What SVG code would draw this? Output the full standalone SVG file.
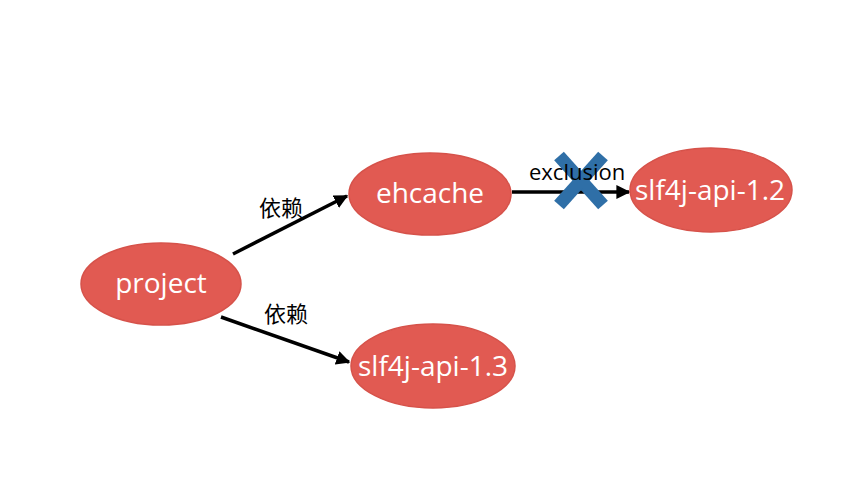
<svg xmlns="http://www.w3.org/2000/svg" width="850" height="480" viewBox="0 0 850 480">
<style>
.node{fill:#e15a52;stroke:#d6524a;stroke-width:1.5}
.nt{fill:#ffffff;font-family:"Open Sans","Liberation Sans",sans-serif;font-size:28px;text-anchor:middle}
.lbl{fill:#000;font-family:"Open Sans","Liberation Sans","Noto Sans CJK SC",sans-serif;font-size:22px}
.edge{stroke:#000;stroke-width:3.5;fill:none;marker-end:url(#ah)}
</style>
<defs>
<marker id="ah" viewBox="0 0 10 10" refX="9" refY="5" markerWidth="4" markerHeight="4" orient="auto" markerUnits="strokeWidth">
<path d="M0,0 L10,5 L0,10 z" fill="#000"/>
</marker>
</defs>
<rect width="850" height="480" fill="#ffffff"/>
<g id="connectors">
<line class="edge" x1="233" y1="254" x2="347" y2="196"/>
<line class="edge" x1="221" y1="317" x2="349" y2="362"/>
<line class="edge" x1="512" y1="192" x2="629" y2="192"/>
<text class="lbl" x="259" y="216" font-family="'Noto Sans CJK SC',sans-serif">依赖</text>
<text class="lbl" x="264" y="322" font-family="'Noto Sans CJK SC',sans-serif">依赖</text>
<g id="cross" stroke="#2f6fa7" stroke-width="13">
<line x1="559" y1="156" x2="603" y2="205"/>
<line x1="603" y1="156" x2="559" y2="205"/>
</g>
<text class="lbl" x="529" y="180" font-size="23">exclusion</text>
</g>
<g id="project">
<ellipse class="node" cx="161" cy="284" rx="80" ry="41"/>
<text class="nt" x="161" y="293">project</text>
</g>
<g id="ehcache">
<ellipse class="node" cx="430" cy="194" rx="81" ry="41"/>
<text class="nt" x="430" y="203">ehcache</text>
</g>
<g id="slf4j12">
<ellipse class="node" cx="711" cy="190" rx="81" ry="42"/>
<text class="nt" x="710" y="200">slf4j-api-1.2</text>
</g>
<g id="slf4j13">
<ellipse class="node" cx="433" cy="366" rx="82" ry="42"/>
<text class="nt" x="433" y="376">slf4j-api-1.3</text>
</g>
</svg>
